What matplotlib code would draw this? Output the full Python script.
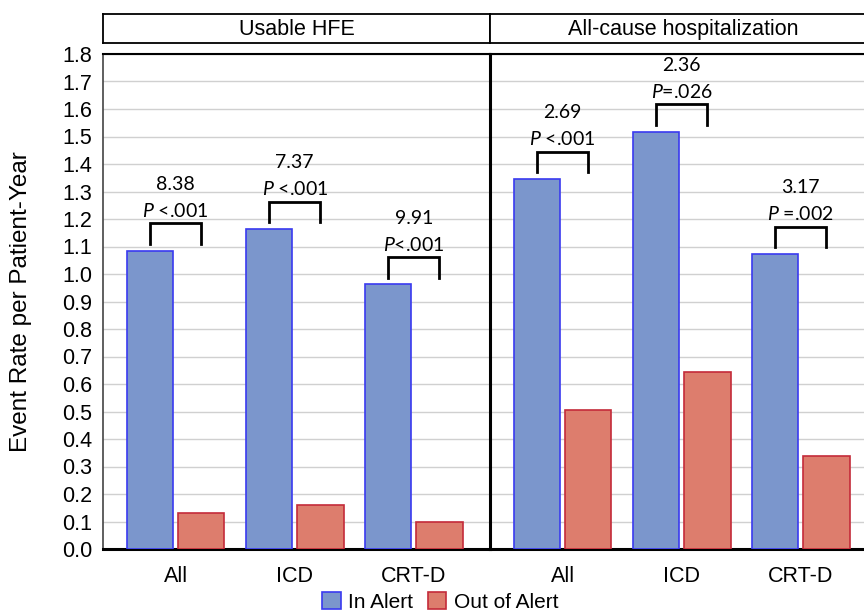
import numpy as np
import matplotlib.pyplot as plt

plt.rcParams['font.family'] = ['Liberation Sans', 'DejaVu Sans']
plt.rcParams['mathtext.fontset'] = 'custom'
plt.rcParams['mathtext.it'] = 'Lato:italic'
plt.rcParams['mathtext.rm'] = 'Lato'

panels = ['Usable HFE', 'All-cause hospitalization']
groups = ['All', 'ICD', 'CRT-D']
in_alert = [[1.085, 1.163, 0.962], [1.345, 1.518, 1.072]]
out_alert = [[0.13, 0.16, 0.099], [0.505, 0.644, 0.34]]
ratios = [['8.38', '7.37', '9.91'], ['2.69', '2.36', '3.17']]
pvals = [[' <.001', ' <.001', '<.001'], [' <.001', '=.026', ' =.002']]

blue_face, blue_edge = '#7b96cc', '#3a3af0'
red_face, red_edge = '#dd7d6d', '#c42b3a'

fig = plt.figure(figsize=(8.64, 6.13), dpi=100)
W, H = 864., 613.
x0, xm, x1 = 103., 490., 877.
y_top, y_bot = 54., 549.
axes = []
for i, (a, b) in enumerate([(x0, xm), (xm, x1)]):
    ax = fig.add_axes([a / W, 1 - y_bot / H, (b - a) / W, (y_bot - y_top) / H])
    axes.append(ax)
    # strip header
    hx = fig.add_axes([a / W, 1 - 43 / H, (b - a) / W, 29 / H])
    hx.set_xticks([]); hx.set_yticks([])
    for s in hx.spines.values():
        s.set_linewidth(1.3)
    hx.text(0.5, 0.45, panels[i], ha='center', va='center', fontsize=15.5,
            transform=hx.transAxes)

w = 0.39
off = 0.215
ann_font = ['Lato', 'DejaVu Sans']
for i, ax in enumerate(axes):
    x = np.arange(len(groups))
    ax.bar(x - off, in_alert[i], w, color=blue_face, edgecolor=blue_edge,
           linewidth=1.2, zorder=3, label='In Alert')
    ax.bar(x + off, out_alert[i], w, color=red_face, edgecolor=red_edge,
           linewidth=1.2, zorder=3, label='Out of Alert')
    for j in range(len(groups)):
        top = in_alert[i][j] + 0.1
        ax.plot([x[j] - off, x[j] - off, x[j] + off, x[j] + off],
                [top - 0.075, top, top, top - 0.075], color='black', lw=2,
                zorder=4, solid_joinstyle='miter')
        ax.text(x[j], top + 0.012, r'$\mathit{P}$' + pvals[i][j],
                ha='center', va='bottom', fontsize=14, family=ann_font)
        ax.text(x[j], top + 0.11, ratios[i][j], ha='center', va='bottom',
                fontsize=14, family=ann_font)
    ax.set_xlim(-0.61, 2.64)
    ax.set_ylim(0, 1.8)
    ax.set_yticks(np.arange(0, 1.81, 0.1))
    ax.set_xticks(x)
    ax.set_xticklabels(groups, fontsize=15.5)
    ax.tick_params(axis='x', length=0, pad=12)
    ax.grid(axis='y', color='#d0d0d0', lw=1, zorder=0)
    ax.spines['bottom'].set_linewidth(2.2)
    ax.spines['top'].set_linewidth(1.5)
    ax.spines['right'].set_visible(False)
    if i == 0:
        ax.set_yticklabels(['%.1f' % v for v in np.arange(0, 1.81, 0.1)], fontsize=15.5)
        ax.tick_params(axis='y', length=0, pad=8)
        ax.spines['left'].set_linewidth(1.2)
        ax.spines['left'].set_color('#444444')
        ax.set_ylabel('Event Rate per Patient-Year', fontsize=17.5)
        ax.yaxis.set_label_coords(-0.183, 0.5)
    else:
        ax.tick_params(axis='y', length=0, labelleft=False)
        ax.spines['left'].set_linewidth(2.2)

h, l = axes[0].get_legend_handles_labels()
fig.legend(h, l, loc='center', bbox_to_anchor=(440 / W, 1 - 602 / H), ncol=2,
           frameon=False, fontsize=15, handlelength=0.9, handleheight=0.9,
           handletextpad=0.35, columnspacing=0.7, borderaxespad=0)

fig.savefig('out.png', dpi=100)
